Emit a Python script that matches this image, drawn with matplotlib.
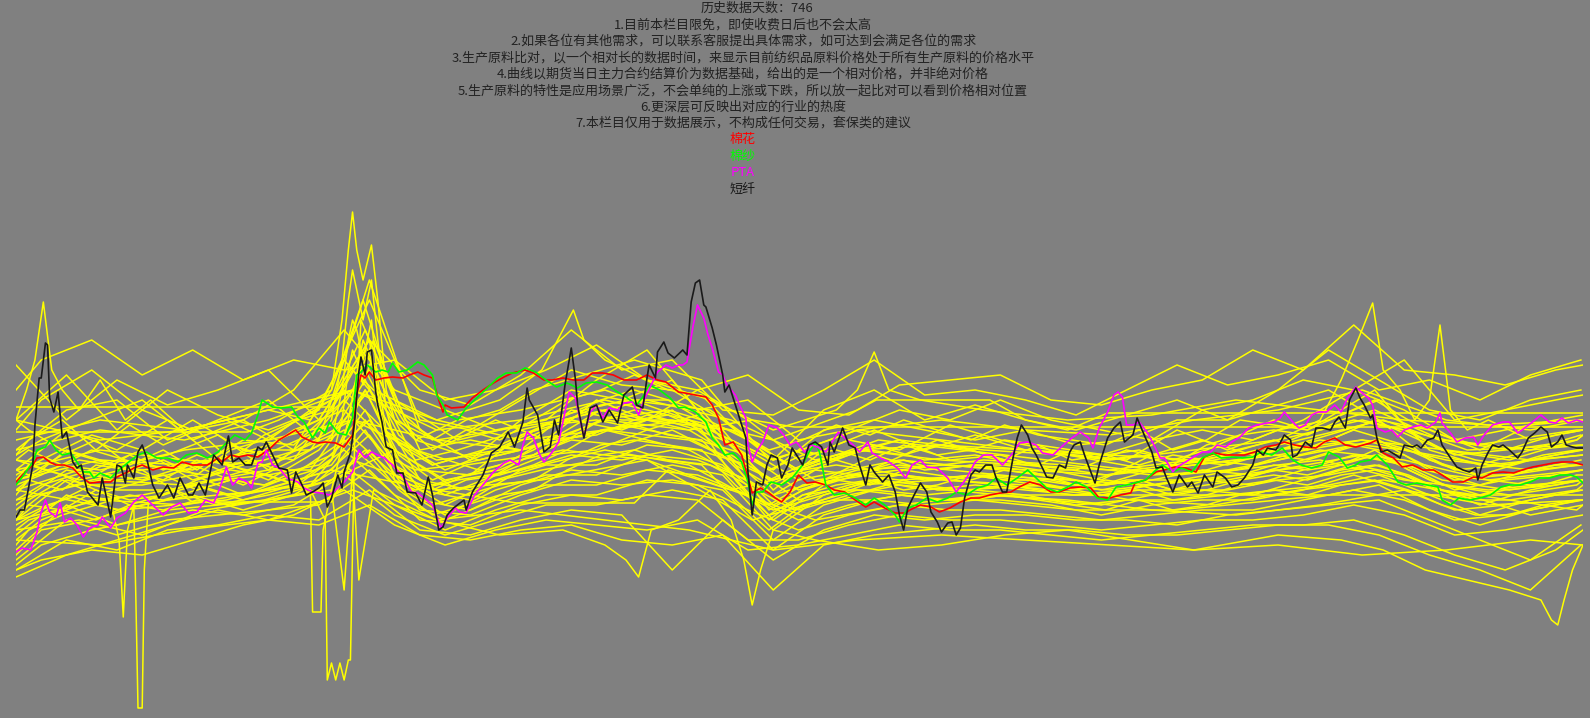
import numpy as np
import matplotlib
matplotlib.use("Agg")
import matplotlib.pyplot as plt

plt.rcParams['font.family'] = ['Noto Sans CJK SC', 'DejaVu Sans']

# 说明文字
header = "历史数据天数：746"
title_lines = [
    "1.目前本栏目限免，即使收费日后也不会太高",
    "2.如果各位有其他需求，可以联系客服提出具体需求，如可达到会满足各位的需求",
    "3.生产原料比对，以一个相对长的数据时间，来显示目前纺织品原料价格处于所有生产原料的价格水平",
    "4.曲线以期货当日主力合约结算价为数据基础，给出的是一个相对价格，并非绝对价格",
    "5.生产原料的特性是应用场景广泛，不会单纯的上涨或下跌，所以放一起比对可以看到价格相对位置",
    "6.更深层可反映出对应的行业的热度",
    "7.本栏目仅用于数据展示，不构成任何交易，套保类的建议",
]
legend_names = ["棉花", "棉纱", "PTA", "短纤"]
legend_colors = ["#ff0000", "#00ff00", "#ff00ff", "#1a1a1a"]

# 相对价格 (day, value)
cotton = [(0,238),(4,247),(8,255),(10,262),(13,263),(16,258),(19,255),(23,255),(27,252),(31,243),(35,237),(40,238),(45,238),(48,243),(53,248),(56,252),(60,255),(65,250),(70,253),(75,252),(79,258),(84,255),(87,255),(91,255),(96,262),(98,258),(102,265),(106,263),(110,265),(115,263),(120,270),(125,280),(129,285),(133,290),(136,283),(141,278),(144,277),(147,278),(152,277),(156,273),(160,285),(162,325),(164,345),(166,342),(168,348),(171,340),(175,342),(179,343),(184,342),(187,345),(191,348),(194,345),(198,342),(201,320),(203,308),(204,315),(207,312),(213,313),(217,322),(222,330),(227,337),(232,343),(236,347),(242,350),(246,347),(251,340),(255,340),(260,342),(265,340),(270,340),(274,347),(279,347),(284,345),(289,340),(295,340),(300,345),(305,340),(309,338),(315,328),(318,327),(323,325),(328,323),(331,315),(334,302),(337,275),(341,278),(345,265),(348,242),(350,227),(354,232),(358,227),(361,222),(364,218),(368,228),(372,245),(376,237),(380,238),(385,235),(389,230),(394,228),(399,220),(404,213),(408,218),(413,212),(418,207),(423,207),(425,210),(430,215),(435,213),(439,208),(444,212),(449,218),(454,222),(458,222),(463,225),(468,227),(473,228),(477,233),(482,238),(487,235),(492,228),(496,228),(501,232),(506,233),(511,232),(515,222),(520,222),(525,225),(530,227),(532,237),(537,240),(542,248),(546,250),(551,253),(556,252),(561,248),(565,263),(570,267),(575,265),(580,265),(584,265),(589,268),(594,273),(599,275),(603,278),(608,275),(613,273),(618,272),(622,278),(627,282),(632,275),(637,273),(644,277),(647,280),(650,267),(655,262),(659,253),(664,255),(669,250),(674,250),(678,245),(683,238),(688,238),(693,243),(697,242),(702,247),(707,248),(712,247),(716,250),(721,253),(726,255),(731,257),(735,258),(740,258),(745,255)]

yarn = [(0,235),(3,243),(8,258),(10,270),(14,273),(16,280),(19,270),(22,265),(26,267),(29,258),(32,248),(35,248),(37,242),(40,247),(45,242),(49,250),(53,257),(58,265),(62,268),(67,262),(72,262),(77,258),(81,265),(86,267),(91,262),(96,268),(99,275),(104,285),(109,280),(112,287),(115,305),(117,320),(122,313),(126,312),(131,313),(134,303),(137,298),(141,282),(144,292),(147,287),(149,298),(153,287),(157,285),(160,302),(162,345),(164,348),(167,355),(171,348),(174,350),(177,348),(179,357),(182,348),(186,350),(191,358),(194,355),(198,345),(200,325),(203,315),(205,305),(210,300),(214,312),(219,322),(224,332),(229,342),(233,347),(238,347),(242,352),(247,348),(252,340),(257,333),(262,337),(267,332),(271,337),(276,338),(281,335),(286,328),(290,323),(295,315),(298,323),(301,335),(306,330),(311,322),(315,312),(318,313),(323,308),(328,298),(331,282),(334,275),(337,265),(341,267),(345,258),(348,238),(350,215),(352,228),(355,228),(359,238),(364,235),(369,242),(374,255),(377,268),(380,277),(382,268),(385,235),(389,225),(394,227),(399,222),(404,215),(408,222),(413,215),(418,205),(420,198),(424,212),(428,215),(433,222),(438,218),(443,222),(447,228),(452,225),(457,232),(462,235),(466,242),(471,235),(476,242),(481,250),(485,242),(490,232),(495,228),(500,233),(504,238),(509,233),(514,222),(519,220),(523,233),(528,235),(532,237),(537,240),(542,250),(545,255),(550,248),(554,252),(559,248),(564,262),(569,267),(573,262),(578,263),(583,262),(588,263),(592,268),(597,265),(602,272),(607,260),(611,255),(616,252),(621,255),(624,268),(629,263),(633,252),(637,255),(639,258),(644,260),(647,265),(652,255),(657,238),(661,235),(666,237),(671,235),(676,233),(678,220),(682,215),(686,222),(691,220),(696,222),(701,225),(706,233),(710,235),(715,235),(720,238),(724,242),(729,242),(734,245),(739,245),(742,243),(745,237)]

pta = [(0,168),(3,172),(7,170),(10,188),(12,208),(14,220),(16,208),(19,203),(21,217),(23,198),(26,202),(29,195),(32,183),(35,192),(39,195),(41,203),(45,192),(48,202),(52,207),(56,218),(60,225),(65,215),(70,205),(74,213),(78,217),(82,207),(86,208),(90,220),(94,217),(97,232),(100,253),(103,235),(106,242),(110,238),(112,232),(115,257),(117,258),(119,270),(122,255),(125,252),(129,242),(134,238),(137,232),(141,228),(145,227),(149,225),(153,232),(156,238),(160,248),(163,270),(166,262),(169,268),(172,265),(175,262),(179,255),(182,248),(185,240),(188,228),(191,227),(194,222),(198,215),(202,192),(205,202),(209,212),(211,208),(214,207),(218,225),(222,235),(227,248),(232,257),(235,260),(239,255),(241,275),(243,288),(246,282),(249,265),(251,258),(255,268),(258,278),(261,308),(263,328),(266,322),(268,302),(270,283),(273,308),(276,315),(279,302),(282,312),(286,310),(289,317),(293,318),(296,305),(299,322),(302,335),(305,348),(309,355),(312,352),(315,355),(317,355),(319,358),(322,395),(324,415),(327,402),(329,385),(331,372),(334,348),(336,345),(338,335),(342,325),(344,315),(347,302),(348,275),(350,258),(352,268),(355,278),(358,295),(362,292),(365,285),(368,275),(371,278),(375,268),(378,275),(381,273),(385,268),(388,278),(391,288),(394,282),(398,275),(401,268),(405,278),(407,267),(411,262),(415,258),(419,252),(423,242),(426,255),(430,260),(433,253),(438,252),(443,242),(447,228),(452,242),(456,258),(460,265),(464,265),(469,255),(474,267),(477,277),(481,278),(485,275),(488,267),(493,265),(498,275),(502,282),(506,288),(510,282),(512,272),(515,292),(519,308),(522,325),(524,328),(526,323),(528,295),(531,295),(534,298),(538,287),(541,275),(544,262),(546,262),(550,248),(552,253),(556,258),(559,262),(564,268),(568,268),(571,275),(575,273),(578,278),(582,283),(586,292),(590,295),(595,297),(598,298),(601,302),(603,308),(607,298),(610,292),(613,295),(616,305),(619,308),(623,308),(627,315),(630,308),(633,322),(637,333),(640,327),(643,322),(645,315),(647,292),(651,288),(654,290),(657,283),(660,290),(664,293),(668,295),(671,292),(675,298),(677,307),(678,297),(682,287),(685,278),(689,282),(693,283),(695,275),(698,285),(702,295),(707,298),(710,298),(714,287),(716,290),(721,298),(725,305),(729,298),(732,297),(735,302),(738,297),(742,300),(745,298)]

psf = [(0,203),(2,210),(4,210),(8,255),(9,295),(11,342),(12,342),(14,377),(15,375),(16,322),(18,308),(20,328),(22,282),(24,288),(27,258),(29,252),(31,255),(34,228),(39,215),(41,242),(45,203),(48,255),(50,253),(52,237),(53,255),(56,242),(58,268),(60,275),(62,263),(65,235),(68,222),(72,235),(75,222),(78,242),(82,225),(84,225),(87,237),(90,225),(94,265),(98,255),(101,284),(103,258),(106,262),(109,255),(112,255),(115,273),(117,270),(119,278),(122,265),(125,252),(129,250),(131,227),(133,248),(136,235),(138,225),(141,228),(144,232),(146,237),(148,213),(150,222),(153,245),(155,232),(156,248),(159,267),(161,298),(163,348),(164,363),(166,345),(167,368),(169,370),(171,328),(172,315),(174,298),(176,273),(179,270),(181,247),(184,247),(186,228),(190,227),(193,215),(196,243),(198,225),(201,190),(203,193),(205,205),(208,212),(213,220),(214,210),(217,228),(222,245),(226,267),(230,273),(234,288),(237,273),(241,298),(243,332),(244,320),(248,305),(251,268),(254,273),(256,300),(258,285),(261,335),(264,372),(266,340),(267,315),(270,282),(273,312),(276,315),(279,298),(282,310),(286,297),(289,325),(293,333),(295,315),(298,312),(300,342),(301,355),(304,342),(305,368),(308,378),(310,367),(313,362),(317,370),(319,365),(321,418),(323,437),(325,440),(327,415),(328,413),(331,392),(333,375),(336,345),(337,328),(339,335),(342,315),(344,302),(347,282),(348,248),(350,205),(352,238),(355,235),(357,255),(359,265),(362,262),(364,242),(367,255),(369,272),(372,262),(374,255),(377,275),(380,278),(383,273),(386,255),(387,278),(389,268),(393,292),(396,275),(399,272),(401,255),(404,235),(406,255),(408,248),(412,238),(415,245),(418,228),(420,205),(422,190),(424,212),(427,225),(430,237),(433,228),(435,208),(438,198),(440,188),(443,197),(445,198),(447,185),(449,192),(451,222),(454,245),(456,250),(458,248),(461,255),(464,255),(466,242),(469,228),(471,228),(474,262),(476,282),(478,295),(481,285),(483,272),(485,265),(488,252),(490,243),(493,242),(496,255),(499,252),(501,268),(503,275),(506,278),(508,265),(511,248),(513,237),(515,255),(519,282),(522,292),(525,298),(527,278),(531,285),(533,302),(537,282),(540,268),(542,252),(545,253),(547,242),(550,228),(553,245),(557,233),(559,238),(562,227),(565,245),(569,233),(571,248),(575,242),(578,233),(581,235),(584,242),(588,255),(590,270),(593,265),(595,272),(599,270),(601,277),(603,285),(606,280),(607,263),(609,265),(613,278),(616,273),(618,292),(621,292),(625,290),(627,298),(629,303),(632,292),(634,320),(637,332),(639,322),(641,315),(644,302),(645,305),(647,282),(649,268),(652,270),(656,265),(658,262),(660,275),(664,273),(666,275),(668,272),(671,280),(674,282),(676,290),(678,275),(682,262),(685,253),(688,250),(691,248),(694,252),(695,240),(697,255),(700,268),(702,275),(705,273),(707,275),(710,270),(714,262),(716,268),(719,282),(722,287),(725,293),(728,288),(730,273),(733,278),(735,285),(737,275),(740,273),(742,272),(745,272)]

# 其他生产原料 (黄线)
days_a = np.arange(0, 745, 24)
days_b = np.concatenate([[0], np.arange(12, 745, 24), [745]])
days_c = np.concatenate([[0], np.arange(6, 745, 16), [745]])

others_a = [
    [355,300,340,315,330,350,300,380,330,315,345,390,350,360,310,305,330,360,325,330,320,305,330,355,335,345,360,330,340,320,345,360],
    [300,345,290,330,305,290,310,420,300,290,320,350,335,330,300,260,310,330,300,315,300,290,305,320,300,330,370,340,310,300,320,330],
    [270,310,320,280,300,320,280,440,290,260,300,330,320,340,280,250,290,300,290,280,290,275,280,300,300,315,330,300,290,270,295,300],
    [250,290,270,300,260,275,300,380,270,280,270,310,300,300,290,230,270,290,270,285,270,265,260,290,270,290,300,320,270,255,270,285],
    [230,270,255,265,285,250,290,350,250,245,285,300,290,310,270,225,255,275,260,265,255,250,270,260,255,270,285,300,260,245,260,270],
    [215,250,240,245,260,240,270,330,240,230,260,280,275,290,265,215,240,265,250,255,250,235,250,245,250,260,270,280,250,235,250,260],
    [200,240,230,230,240,245,255,300,230,220,250,265,260,270,255,200,235,250,240,245,240,230,240,240,240,250,255,265,240,225,240,250],
    [185,225,210,220,225,230,240,285,220,210,235,250,245,255,245,190,225,240,230,235,230,225,230,230,230,240,245,255,235,215,230,240],
    [170,215,195,210,215,220,230,270,210,205,225,240,235,240,230,180,215,230,225,230,225,215,220,220,225,230,235,245,225,205,220,230],
    [160,200,185,200,205,210,215,250,200,195,215,225,220,230,220,170,205,220,215,220,215,210,210,210,215,220,225,235,210,195,210,220],
    [150,180,170,190,195,205,200,230,190,185,200,210,205,150,200,160,190,205,200,205,205,200,200,195,205,210,215,220,200,180,160,195],
    [143,165,180,195,210,200,195,215,185,180,190,195,180,175,185,130,175,185,190,195,190,190,185,185,190,195,195,185,165,150,130,175],
]

others_b = [
    [330,360,380,345,370,340,360,350,360,320,330,350,375,340,330,345,310,305,335,340,345,320,315,330,340,370,350,395,350,345,335,350,355],
    [290,320,350,310,290,300,330,390,330,310,290,300,340,370,310,320,280,290,310,300,320,300,290,280,310,320,340,330,360,300,310,320,325],
    [265,280,300,320,280,300,270,360,300,275,300,280,320,300,330,300,260,280,270,295,280,270,265,280,290,280,300,330,310,280,290,300,305],
    [245,260,285,270,300,270,260,330,280,250,270,295,300,290,305,280,250,265,280,260,265,250,240,265,280,265,285,300,290,265,270,285,290],
    [235,245,270,255,250,280,275,320,270,240,250,280,285,305,290,270,240,250,260,255,250,245,235,250,260,255,270,290,275,250,255,265,270],
    [220,235,250,270,240,255,290,310,255,225,245,265,270,290,280,265,230,245,255,250,245,240,230,240,250,245,260,275,265,240,245,255,255],
    [205,225,240,250,255,235,260,290,245,215,240,255,255,275,270,255,220,235,245,240,235,230,225,235,240,235,250,265,255,230,240,245,250],
    [195,210,235,235,245,225,245,280,235,205,230,245,245,265,260,240,210,225,235,230,225,220,215,225,230,225,240,255,245,220,230,235,240],
    [180,200,220,225,235,220,235,270,225,200,220,235,235,250,245,225,200,215,225,220,220,215,205,215,220,220,230,245,230,210,215,225,230],
    [165,190,200,215,225,210,225,255,215,190,210,225,225,240,235,210,190,205,215,210,210,205,200,205,210,210,220,230,220,200,205,215,220],
    [155,175,190,200,210,205,215,245,205,185,200,215,215,225,220,180,180,195,205,200,200,195,190,195,200,200,205,215,205,185,190,200,205],
    [150,160,170,165,180,195,205,230,195,175,190,200,195,190,200,170,175,185,195,190,190,185,180,185,190,195,195,200,185,165,150,170,190],
]

others_d = [
    [265,280,300,270,295,275,290,260,285,300,310,370,300,270,290,280,300,320,330,345,330,325,290,270,280,295,285,300,290,280,295,285,280,275,290,270,280,300,295,290,305,320,300,285,275,280,285,290,290],
    [250,245,265,280,255,270,250,275,265,280,295,350,285,255,265,270,285,300,315,320,320,300,270,250,265,270,260,275,265,270,260,275,260,265,255,265,260,270,280,270,285,300,285,270,260,255,265,270,270],
    [225,240,230,255,250,240,260,245,255,265,280,330,265,240,255,260,265,285,300,310,300,295,255,235,250,255,250,260,250,255,255,250,250,245,250,245,250,260,265,260,270,280,270,255,245,245,250,255,255],
    [210,220,240,225,235,245,230,240,235,250,265,310,250,225,240,245,255,270,290,295,285,280,245,215,235,240,245,245,240,245,240,240,235,235,240,230,240,245,255,250,255,265,255,240,235,230,235,245,245],
    [200,215,210,230,220,225,235,225,230,240,250,290,240,215,225,235,240,260,275,280,275,270,235,205,225,230,230,240,230,230,235,230,225,225,230,220,225,235,240,235,245,250,240,230,220,220,225,230,235],
    [190,200,210,200,215,210,220,215,220,230,240,270,230,205,215,225,230,250,265,270,260,255,220,190,215,220,220,225,220,220,225,220,215,210,220,210,215,225,230,225,235,240,230,215,205,205,215,220,220],
    [300,290,270,260,250,260,245,270,280,300,320,390,310,280,300,310,330,340,350,360,350,340,300,260,270,260,250,265,280,270,260,255,270,260,265,255,275,285,300,290,310,330,290,270,265,260,270,280,285],
    [175,190,205,215,225,220,230,240,235,245,255,300,250,235,245,250,265,280,300,305,310,300,255,210,230,240,235,250,245,240,250,245,240,235,240,230,235,240,245,240,250,255,245,230,225,220,215,210,215],
    [240,255,245,230,215,225,240,250,245,235,260,330,260,230,245,255,270,290,310,300,305,290,240,200,225,235,240,230,235,245,240,235,230,240,235,225,230,240,250,245,255,270,250,235,230,225,230,235,240],
    [260,270,255,245,265,250,265,255,260,270,285,340,275,255,265,275,290,305,320,330,320,310,270,240,255,265,270,265,275,270,280,275,270,265,270,260,270,285,290,285,300,310,295,280,275,270,275,280,285],
]

# 个别有尖峰/断档的品种 (day, value)
others_c = [
    [(0,300),(5,330),(9,360),(13,418),(17,350),(22,330),(30,310),(40,340),(52,300),(64,320),(80,290),(100,300),(120,280),(140,310),(160,330),(170,380),(185,300),(200,280),(230,290),(260,300),(300,320),(340,300),(380,260),(420,280),(460,270),(500,265),(540,250),(580,260),(620,280),(660,270),(700,255),(745,265)],
    [(0,200),(15,215),(30,225),(45,220),(49,180),(51,103),(53,190),(56,215),(57,120),(58,12),(60,12),(61,150),(63,220),(75,230),(95,215),(120,225),(150,240),(180,270),(210,230),(250,250),(290,265),(330,255),(370,210),(410,240),(450,230),(490,235),(530,220),(570,215),(610,230),(650,240),(690,225),(720,205),(745,215)],
    [(0,260),(30,240),(60,255),(90,245),(110,260),(125,250),(135,235),(140,225),(141,108),(145,108),(146,190),(150,230),(158,300),(165,380),(175,330),(190,280),(220,260),(260,280),(300,300),(340,290),(380,240),(420,250),(460,260),(500,255),(540,245),(580,250),(620,270),(660,260),(700,240),(745,250)],
    [(0,230),(30,250),(60,240),(90,260),(120,245),(140,230),(147,200),(148,40),(150,57),(152,40),(154,57),(156,40),(158,60),(159,60),(161,280),(164,400),(168,380),(175,290),(190,270),(220,250),(260,270),(300,260),(340,230),(380,250),(420,240),(460,245),(500,240),(540,235),(580,250),(620,260),(660,240),(700,230),(745,240)],
    [(0,280),(40,300),(80,290),(120,310),(140,300),(150,330),(155,400),(158,470),(160,508),(162,470),(165,440),(169,475),(172,420),(176,330),(180,300),(190,280),(210,300),(240,310),(280,330),(320,300),(360,260),(400,290),(440,300),(480,290),(520,285),(560,300),(600,310),(640,330),(680,300),(720,290),(745,300)],
    [(0,240),(40,260),(80,255),(120,270),(140,270),(150,300),(155,360),(158,420),(160,450),(162,430),(165,400),(169,440),(172,380),(176,310),(180,280),(190,260),(210,270),(240,290),(280,310),(320,290),(360,240),(400,270),(440,275),(480,270),(520,260),(560,270),(600,280),(640,300),(680,280),(720,270),(745,275)],
    [(0,220),(40,240),(80,235),(120,250),(140,250),(150,280),(155,330),(158,380),(160,400),(162,390),(165,360),(169,400),(172,340),(176,290),(180,260),(190,250),(210,255),(240,270),(280,290),(320,270),(360,225),(400,250),(440,255),(480,250),(520,245),(560,255),(600,265),(640,280),(680,260),(720,250),(745,255)],
    [(0,200),(40,220),(80,215),(120,230),(140,235),(150,260),(155,300),(158,350),(160,370),(162,360),(165,335),(169,360),(172,310),(176,270),(180,240),(190,230),(210,240),(240,250),(280,270),(320,255),(360,210),(400,235),(440,240),(480,235),(520,230),(560,240),(600,250),(640,265),(680,245),(720,235),(745,240)],
    [(0,190),(30,200),(60,185),(90,210),(120,220),(150,230),(156,130),(160,250),(163,140),(170,230),(200,200),(230,185),(260,190),(280,175),(290,160),(296,143),(302,190),(315,200),(330,230),(340,200),(346,160),(350,115),(354,150),(360,190),(380,180),(410,170),(440,175),(470,185),(500,190),(530,180),(560,170),(600,175),(640,165),(680,170),(720,180),(745,175)],
    [(0,180),(40,175),(80,190),(120,200),(160,230),(200,200),(240,210),(280,200),(320,190),(360,170),(400,180),(440,185),(480,180),(520,175),(560,170),(600,185),(630,180),(650,170),(670,150),(690,140),(710,130),(725,120),(730,100),(733,95),(736,120),(740,150),(745,175)],
    [(0,260),(40,250),(80,270),(120,280),(160,300),(200,260),(240,270),(280,290),(320,280),(360,240),(400,270),(440,260),(480,255),(520,250),(560,260),(600,280),(620,300),(630,340),(638,380),(645,417),(650,350),(658,330),(665,300),(672,320),(677,395),(682,310),(690,290),(700,300),(720,280),(745,290)],
    [(0,300),(40,280),(80,290),(120,310),(160,330),(200,300),(230,320),(250,350),(260,390),(265,410),(270,380),(280,360),(300,340),(330,320),(360,290),(390,310),(400,330),(408,368),(415,330),(430,320),(460,310),(500,300),(540,305),(580,320),(620,310),(660,300),(700,295),(745,300)],
    [(0,313),(150,313),(160,350),(170,330),(200,300),(240,280),(280,290),(320,300),(360,260),(400,290),(440,280),(480,270),(520,265),(560,260),(600,270),(640,280),(680,270),(720,260),(745,265)],
    [(0,240),(30,260),(60,250),(84,218),(150,218),(160,260),(200,230),(238,217),(294,217),(310,250),(340,230),(380,200),(420,215),(460,225),(500,220),(540,210),(580,205),(620,215),(660,230),(700,215),(745,220)],
    [(0,250),(40,270),(80,260),(120,255),(160,300),(200,280),(240,270),(280,300),(320,290),(350,300),(370,293),(745,293)],
    [(0,270),(40,290),(80,280),(120,300),(160,330),(200,290),(240,300),(280,320),(320,300),(360,280),(400,310),(409,320),(463,320),(480,300),(500,290),(519,307),(745,307)],
    [(0,230),(50,210),(100,220),(150,250),(200,230),(250,240),(300,260),(350,200),(400,230),(440,220),(474,225),(745,225)],
    [(0,288),(110,288),(125,300),(150,330),(165,420),(180,320),(210,280),(250,300),(290,320),(330,310),(370,250),(410,280),(450,270),(490,260),(530,250),(570,260),(610,280),(650,300),(690,270),(745,275)],
]

fig = plt.figure(figsize=(15.9, 7.18), dpi=100, facecolor='#808080')
ax = fig.add_axes([16 / 1590, 0, 1567 / 1590, 1])
ax.set_facecolor('#808080')
ax.axis('off')
ax.set_xlim(0, 745)
ax.set_ylim(2, 720)

yellow = '#ffff00'
for ys in others_a:
    ax.plot(days_a, ys, color=yellow, lw=1.1)
for ys in others_b:
    ax.plot(days_b, ys, color=yellow, lw=1.1)
for ys in others_d:
    ax.plot(days_c, ys, color=yellow, lw=1.1)
for pts in others_c:
    d, v = zip(*pts)
    ax.plot(d, v, color=yellow, lw=1.1)

for pts, c in zip([cotton, yarn, pta, psf], legend_colors):
    d, v = zip(*pts)
    ax.plot(d, v, color=c, lw=1.2)

# 标题和图例文字
cx = 743 / 1590
fig.text(757 / 1590, 1 - 8 / 718, header, ha='center', va='center', fontsize=9.4, color='#222222')
y = 8
for line in title_lines:
    y += 16.5
    fig.text(cx, 1 - y / 718, line, ha='center', va='center', fontsize=9.4, color='#222222')
for name, c in zip(legend_names, legend_colors):
    y += 16.5
    fig.text(cx, 1 - y / 718, name, ha='center', va='center', fontsize=9.4, color=c)

fig.savefig('out.png', dpi=100, facecolor=fig.get_facecolor())
